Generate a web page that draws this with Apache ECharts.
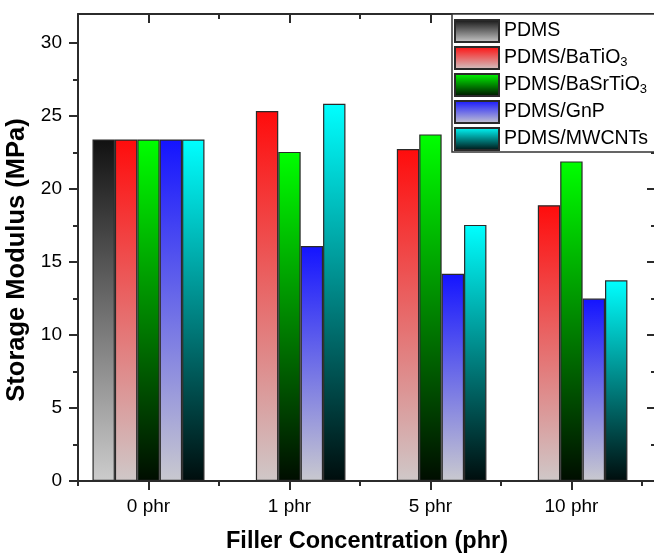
<!DOCTYPE html>
<html>
<head>
<meta charset="utf-8">
<script src="https://cdn.jsdelivr.net/npm/echarts@6/dist/echarts.min.js"></script>
<style>
  html, body { margin: 0; padding: 0; background: #ffffff; }
  #chart { width: 654px; height: 554px; }
</style>
</head>
<body>
<div id="chart"></div>
<script>
// Storage modulus (MPa) of PDMS composites at each filler loading
const categories = ['0 phr', '1 phr', '5 phr', '10 phr'];
const seriesNames = ['PDMS', 'PDMS/BaTiO3', 'PDMS/BaSrTiO3', 'PDMS/GnP', 'PDMS/MWCNTs'];
const pdms      = [23.4, null, null, null];
const baTiO3    = [23.4, 25.35, 22.75, 18.9];
const baSrTiO3  = [23.4, 22.55, 23.75, 21.9];
const gnp       = [23.4, 16.1, 14.2, 12.5];
const mwcnts    = [23.4, 25.85, 17.55, 13.75];
const yTickValues  = [0, 5, 10, 15, 20, 25, 30];
const yMinorValues = [2.5, 7.5, 12.5, 17.5, 22.5, 27.5];

const FONT = 'Arial, "Liberation Sans", sans-serif';

// top colour -> bottom colour of each bar fill
const fills = [
  ['#111111', '#cccccc'],
  ['#ff0c0c', '#cfc8c8'],
  ['#00ff00', '#000d00'],
  ['#1414ff', '#c9c9cf'],
  ['#00ffff', '#000d0d']
];

const catIdx = categories.map((c, i) => i);
const boundaries = [-0.5, 0.5, 1.5, 2.5, 3.5];

function grad(pair) {
  return new echarts.graphic.LinearGradient(0, 0, 0, 1, [
    { offset: 0, color: pair[0] },
    { offset: 1, color: pair[1] }
  ]);
}

const values = [pdms, baTiO3, baSrTiO3, gnp, mwcnts];

const series = values.map((arr, s) => ({
  name: seriesNames[s],
  type: 'bar',
  xAxisIndex: 0,
  yAxisIndex: 0,
  barWidth: 22.4,
  barGap: '0%',
  data: arr.map((v, i) => [i, v]),
  itemStyle: {
    color: grad(fills[s]),
    borderColor: '#2a2a2a',
    borderWidth: 1.2
  }
}));

const xRange = { min: -0.5, max: 3.6 };
const axisLineStyle = { color: '#2b2b2b', width: 2 };

const chart = echarts.init(document.getElementById('chart'), null, { renderer: 'canvas' });
chart.setOption({
  backgroundColor: '#ffffff',
  animation: false,
  textStyle: { fontFamily: FONT },
  grid: { left: 78, right: -2, top: 14, bottom: 73, containLabel: false, outerBoundsMode: 'none' },
  legend: {
    orient: 'vertical',
    left: 452,
    top: 14,
    itemWidth: 44,
    itemHeight: 22,
    itemGap: 3,
    padding: [5, 8, 1, 2],
    backgroundColor: '#ffffff',
    borderColor: '#333333',
    borderWidth: 1.5,
    borderRadius: 0,
    icon: 'rect',
    data: seriesNames,
    textStyle: {
      fontFamily: FONT,
      fontSize: 19.5,
      color: '#000000',
      rich: {
        sub: { fontFamily: FONT, fontSize: 13, color: '#000000', padding: [8, 0, 0, 0] }
      }
    },
    formatter: name => name.replace(/O3$/, 'O{sub|3}')
  },
  xAxis: [
    {
      type: 'value', position: 'bottom', ...xRange,
      name: 'Filler Concentration (phr)',
      nameLocation: 'middle',
      nameGap: 49,
      nameTextStyle: { fontFamily: FONT, fontSize: 23.5, fontWeight: 'bold', color: '#000000' },
      axisLine: { onZero: false, lineStyle: axisLineStyle },
      axisTick: { show: true, inside: false, length: 9, customValues: catIdx, lineStyle: axisLineStyle },
      axisLabel: {
        customValues: catIdx, margin: 16, fontFamily: FONT, fontSize: 19, color: '#000000',
        formatter: v => categories[Math.round(v)] || ''
      },
      splitLine: { show: false }
    },
    {
      type: 'value', position: 'bottom', ...xRange,
      axisLine: { show: false, onZero: false },
      axisTick: { show: true, inside: false, length: 5, customValues: boundaries, lineStyle: axisLineStyle },
      axisLabel: { show: false },
      splitLine: { show: false }
    },
    {
      type: 'value', position: 'top', ...xRange,
      axisLine: { onZero: false, lineStyle: axisLineStyle },
      axisTick: { show: true, inside: true, length: 9, customValues: catIdx, lineStyle: axisLineStyle },
      axisLabel: { show: false },
      splitLine: { show: false }
    },
    {
      type: 'value', position: 'top', ...xRange,
      axisLine: { show: false, onZero: false },
      axisTick: { show: true, inside: true, length: 5, customValues: boundaries, lineStyle: axisLineStyle },
      axisLabel: { show: false },
      splitLine: { show: false }
    }
  ],
  yAxis: [
    {
      type: 'value', position: 'left', min: 0, max: 32, interval: 5,
      name: 'Storage Modulus (MPa)',
      nameLocation: 'middle',
      nameGap: 38,
      nameTextStyle: {
        fontFamily: FONT, fontSize: 25.5, fontWeight: 'bold', color: '#000000',
        padding: [0, 25, 0, 0]
      },
      axisLine: { show: true, onZero: false, lineStyle: axisLineStyle },
      axisTick: { show: true, inside: false, length: 9, customValues: yTickValues, lineStyle: axisLineStyle },
      axisLabel: { customValues: yTickValues, margin: 16, fontFamily: FONT, fontSize: 19, color: '#000000' },
      splitLine: { show: false }
    },
    {
      type: 'value', position: 'left', min: 0, max: 32, interval: 5,
      axisLine: { show: false, onZero: false },
      axisTick: { show: true, inside: false, length: 5, customValues: yMinorValues, lineStyle: axisLineStyle },
      axisLabel: { show: false },
      splitLine: { show: false }
    },
    {
      type: 'value', position: 'right', min: 0, max: 32, interval: 5,
      axisLine: { show: true, onZero: false, lineStyle: axisLineStyle },
      axisTick: { show: true, inside: true, length: 9, customValues: yTickValues, lineStyle: axisLineStyle },
      axisLabel: { show: false },
      splitLine: { show: false }
    },
    {
      type: 'value', position: 'right', min: 0, max: 32, interval: 5,
      axisLine: { show: false, onZero: false },
      axisTick: { show: true, inside: true, length: 5, customValues: yMinorValues, lineStyle: axisLineStyle },
      axisLabel: { show: false },
      splitLine: { show: false }
    }
  ],
  series: series
});
</script>
</body>
</html>
